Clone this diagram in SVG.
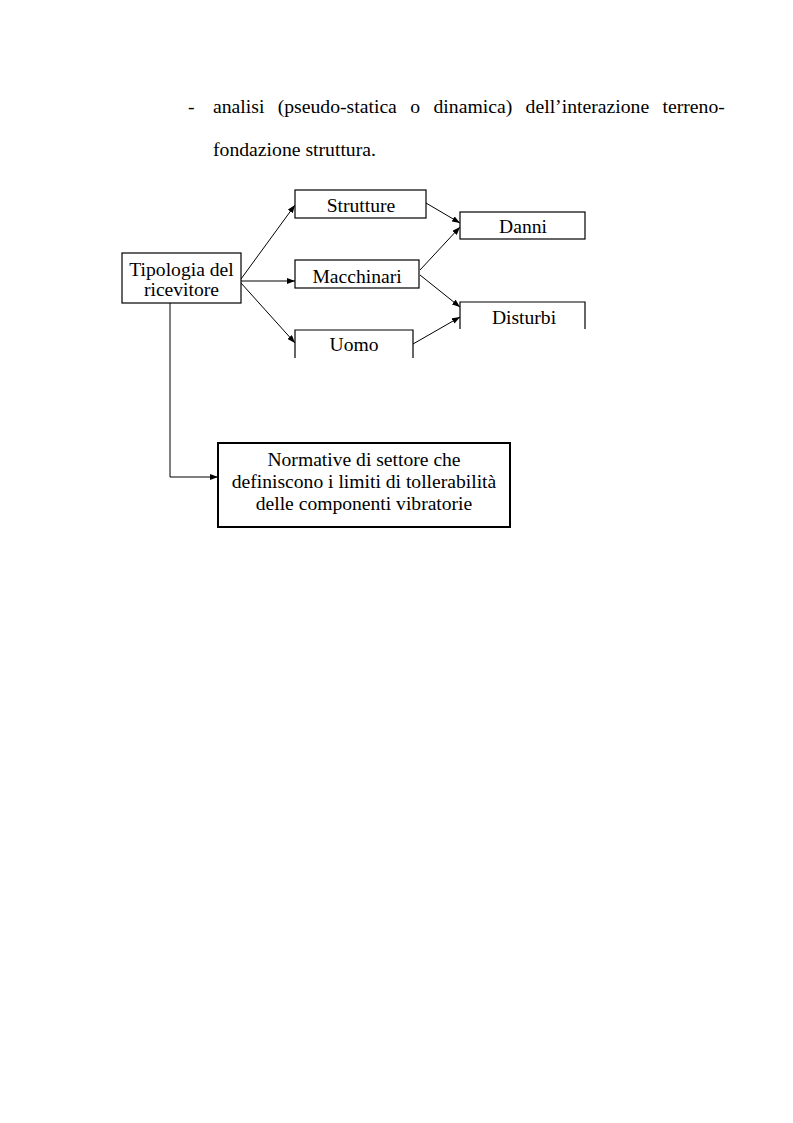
<svg xmlns="http://www.w3.org/2000/svg" width="793" height="1123" viewBox="0 0 793 1123">
<style>
text{font-family:"Liberation Serif","Times New Roman",serif;fill:#000}
.hd{font-size:19.7px}
.lb{font-size:19.6px;text-anchor:middle}
.box{fill:#fff;stroke:#000;stroke-width:1.2}
.thick{fill:#fff;stroke:#000;stroke-width:2}
.edge{fill:none;stroke:#000;stroke-width:1}
</style>
<defs>
<marker id="ah" markerWidth="8" markerHeight="6" refX="8" refY="3" orient="auto" markerUnits="userSpaceOnUse">
<path d="M0,0 L8,3 L0,6 Z" fill="#000"/>
</marker>
</defs>
<rect width="793" height="1123" fill="#fff"/>
<g id="header">
<text class="hd" x="188" y="113">-</text>
<text class="hd" y="113"><tspan x="213">analisi</tspan><tspan x="277.7">(pseudo-statica</tspan><tspan x="410.3">o</tspan><tspan x="433.5">dinamica)</tspan><tspan x="525.6">dell’interazione</tspan><tspan x="662.5">terreno-</tspan></text>
<text class="hd" x="213" y="156">fondazione struttura.</text>
</g>
<g id="connectors">
<path class="edge" d="M241,279 L295,205" marker-end="url(#ah)"/>
<path class="edge" d="M241,281 L295,281" marker-end="url(#ah)"/>
<path class="edge" d="M241,283 L295,343" marker-end="url(#ah)"/>
<path class="edge" d="M426,203 L460,223" marker-end="url(#ah)"/>
<path class="edge" d="M420,270 L460,227" marker-end="url(#ah)"/>
<path class="edge" d="M420,275 L460,307" marker-end="url(#ah)"/>
<path class="edge" d="M413,344 L460,317" marker-end="url(#ah)"/>
<path class="edge" d="M170,303 L170,477 L218,477" marker-end="url(#ah)"/>
</g>
<g id="tipologia">
<rect class="box" x="122" y="253" width="119" height="50"/>
<text class="lb" x="181.5" y="276">Tipologia del</text>
<text class="lb" x="181.5" y="296">ricevitore</text>
</g>
<g id="strutture">
<rect class="box" x="295" y="190" width="131" height="28"/>
<text class="lb" x="361" y="212">Strutture</text>
</g>
<g id="macchinari">
<rect class="box" x="295" y="260" width="124" height="28"/>
<text class="lb" x="357" y="283">Macchinari</text>
</g>
<g id="uomo">
<path class="box" d="M295,358 L295,330 L413,330 L413,358"/>
<text class="lb" x="354" y="351">Uomo</text>
</g>
<g id="danni">
<rect class="box" x="460" y="212" width="125" height="27"/>
<text class="lb" x="523" y="233">Danni</text>
</g>
<g id="disturbi">
<path class="box" d="M460,329 L460,302 L585,302 L585,329"/>
<text class="lb" x="524" y="324">Disturbi</text>
</g>
<g id="normative">
<rect class="thick" x="218" y="443" width="292" height="84"/>
<text class="lb" x="364" y="466">Normative di settore che</text>
<text class="lb" x="364" y="488">definiscono i limiti di tollerabilità</text>
<text class="lb" x="364" y="510">delle componenti vibratorie</text>
</g>
</svg>
